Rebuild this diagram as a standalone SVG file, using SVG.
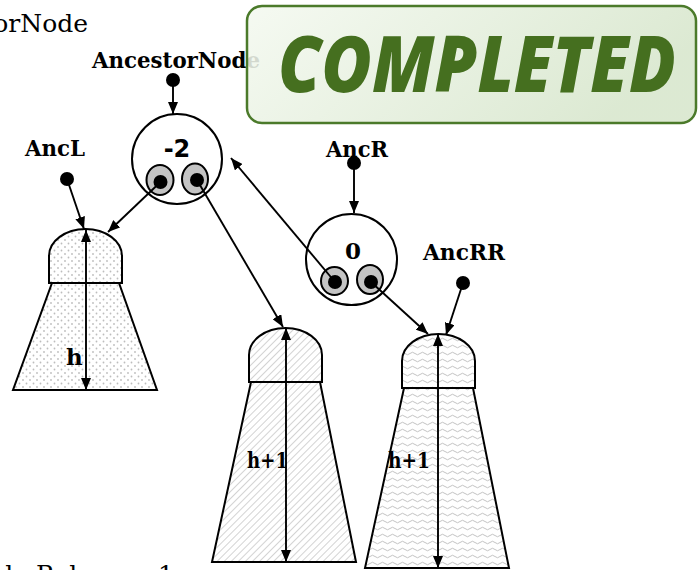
<svg xmlns="http://www.w3.org/2000/svg" width="698" height="570" viewBox="0 0 698 570">
<style>
.lbl{font-family:"DejaVu Serif","Liberation Serif",serif;font-weight:bold;font-size:23px;fill:#000}
.reg{font-family:"DejaVu Serif","Liberation Serif",serif;font-size:25px;fill:#000}
.arr{stroke:#000;stroke-width:1.9;fill:none;marker-end:url(#ah)}
.dbl{stroke:#000;stroke-width:1.9;fill:none;marker-start:url(#ah);marker-end:url(#ah)}
.shape{stroke:#000;stroke-width:2}
.node{fill:#fff;stroke:#000;stroke-width:2}
.ptr{fill:#c4c4c4;stroke:#000;stroke-width:2}
.dot{fill:#000}
</style>
<defs>
<marker id="ah" viewBox="0 0 12 10" refX="12" refY="5" markerWidth="12" markerHeight="10" markerUnits="userSpaceOnUse" orient="auto-start-reverse"><path d="M0,0 L12,5 L0,10 z" fill="#000"/></marker>
<pattern id="dots" width="7" height="7" patternUnits="userSpaceOnUse"><rect width="7" height="7" fill="#fff"/><circle cx="2" cy="2" r="0.9" fill="#bdbdbd"/><circle cx="5.5" cy="5.5" r="0.9" fill="#bdbdbd"/></pattern>
<pattern id="hatch" width="5" height="5" patternUnits="userSpaceOnUse" patternTransform="rotate(45)"><rect width="5" height="5" fill="#fff"/><line x1="0" y1="0" x2="0" y2="5" stroke="#c8c8c8" stroke-width="1.6"/></pattern>
<pattern id="wave" width="10" height="7" patternUnits="userSpaceOnUse"><rect width="10" height="7" fill="#fff"/><path d="M0,3.5 Q2.5,1 5,3.5 T10,3.5" stroke="#c4c4c4" stroke-width="1" fill="none"/></pattern>
<linearGradient id="stampg" x1="0" y1="0" x2="1" y2="0.3"><stop offset="0" stop-color="#f4f9f0"/><stop offset="1" stop-color="#d7e6cc"/></linearGradient>
</defs>

<text class="reg" x="88" y="32" text-anchor="end">AncestorNode</text>
<text class="reg" x="174" y="583" text-anchor="end">AncestorNode.Balance=1</text>

<g id="treeL">
<path class="shape" fill="url(#dots)" d="M52,283 L119,283 L157,390 L13,390 Z"/>
<path class="shape" fill="url(#dots)" d="M49,283 V256 A36.5,27 0 0 1 122,256 V283 Z"/>
</g>
<g id="treeM">
<path class="shape" fill="url(#hatch)" d="M251,382 L320,382 L356,562 L212,562 Z"/>
<path class="shape" fill="url(#hatch)" d="M249,382 V355 A36.5,27 0 0 1 322,355 V382 Z"/>
</g>
<g id="treeR">
<path class="shape" fill="url(#wave)" d="M404,388 L473,388 L509,568 L365,568 Z"/>
<path class="shape" fill="url(#wave)" d="M402,388 V361 A36.5,27 0 0 1 475,361 V388 Z"/>
</g>

<g id="nodeA">
<circle class="node" cx="177" cy="159" r="45"/>
<text x="177" y="157" text-anchor="middle" font-family="DejaVu Sans, sans-serif" font-weight="bold" font-size="24">-2</text>
<ellipse class="ptr" cx="160" cy="180" rx="13.5" ry="15"/>
<circle class="dot" cx="160.5" cy="182" r="7"/>
<ellipse class="ptr" cx="195" cy="179" rx="13" ry="15.5"/>
<circle class="dot" cx="197" cy="180" r="7"/>
</g>
<g id="nodeR">
<circle class="node" cx="351.5" cy="259.5" r="45.5"/>
<text class="lbl" x="353" y="259" text-anchor="middle" font-size="25">0</text>
<ellipse class="ptr" cx="334.5" cy="281" rx="13.5" ry="14"/>
<circle class="dot" cx="335" cy="282" r="7"/>
<ellipse class="ptr" cx="370" cy="279.5" rx="13" ry="14.5"/>
<circle class="dot" cx="371" cy="282" r="7"/>
</g>

<g id="labels">
<text class="lbl" x="92" y="68" textLength="168" lengthAdjust="spacingAndGlyphs">AncestorNode</text>
<circle class="dot" cx="173" cy="80" r="7"/>
<text class="lbl" x="25" y="156" textLength="60" lengthAdjust="spacingAndGlyphs">AncL</text>
<circle class="dot" cx="67" cy="179" r="7"/>
<text class="lbl" x="326" y="157" textLength="62" lengthAdjust="spacingAndGlyphs">AncR</text>
<circle class="dot" cx="354" cy="163" r="7"/>
<text class="lbl" x="423" y="260" textLength="82" lengthAdjust="spacingAndGlyphs">AncRR</text>
<circle class="dot" cx="463" cy="283" r="7"/>
<text class="lbl" x="66" y="365" font-size="23">h</text>
<text class="lbl" x="247" y="468" font-size="23" textLength="41" lengthAdjust="spacingAndGlyphs">h+1</text>
<text class="lbl" x="388" y="468" font-size="23" textLength="42" lengthAdjust="spacingAndGlyphs">h+1</text>
</g>

<g id="connectors">
<line class="arr" x1="173" y1="80" x2="173" y2="114"/>
<line class="arr" x1="67" y1="179" x2="84" y2="229"/>
<line class="arr" x1="160.5" y1="182" x2="108" y2="232"/>
<line class="arr" x1="197" y1="180" x2="283" y2="327"/>
<line class="arr" x1="354" y1="163" x2="354" y2="213"/>
<line class="arr" x1="335" y1="282" x2="231" y2="158"/>
<line class="arr" x1="371" y1="282" x2="428" y2="334"/>
<line class="arr" x1="463" y1="283" x2="446" y2="335"/>
<line class="dbl" x1="86" y1="230" x2="86" y2="390"/>
<line class="dbl" x1="286" y1="328" x2="286" y2="562"/>
<line class="dbl" x1="438" y1="334" x2="438" y2="568"/>
</g>

<g id="stamp">
<rect x="247" y="6" width="449" height="117" rx="15" fill="url(#stampg)" fill-opacity="0.88" stroke="#4b7a2a" stroke-width="2.5"/>
<text x="477" y="92" text-anchor="middle" font-family="Open Sans, sans-serif" font-weight="800" font-style="italic" font-size="78" fill="#456f1f" textLength="398" lengthAdjust="spacingAndGlyphs">COMPLETED</text>
</g>
</svg>
